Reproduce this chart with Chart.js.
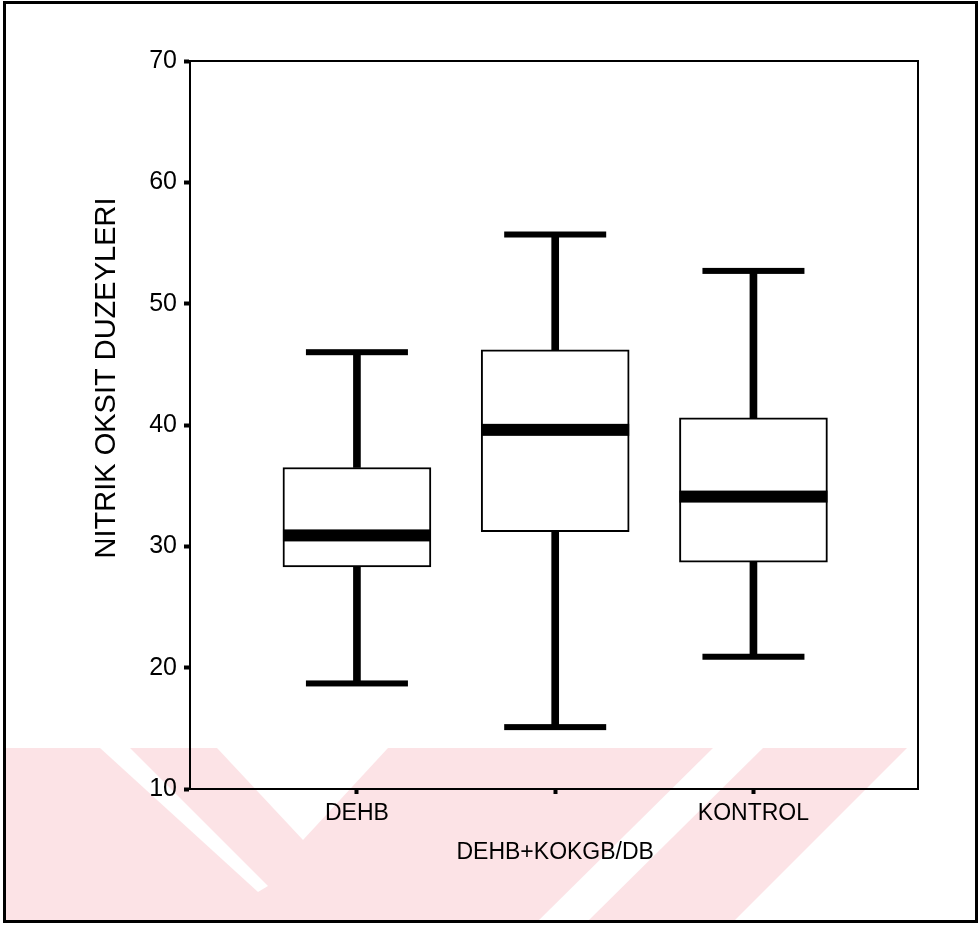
<!DOCTYPE html>
<html>
<head>
<meta charset="utf-8">
<title>Nitrik oksit düzeyleri</title>
<script src="https://cdn.jsdelivr.net/npm/chart.js@4.4.1/dist/chart.umd.min.js"></script>
<style>
  html, body { margin: 0; padding: 0; background: #fff; }
  #wrap { position: relative; width: 980px; height: 934px; }
</style>
</head>
<body>
<div id="wrap">
  <canvas id="boxChart" width="980" height="934"></canvas>
</div>
<script>
// gruplar ve kutu grafiği değerleri
const categories = ['DEHB', 'DEHB+KOKGB/DB', 'KONTROL'];
const whiskerMin = [18.7, 15.1, 20.9];
const q1Values = [28.3, 31.2, 28.7];
const medianValues = [30.9, 39.6, 34.1];
const q3Values = [36.5, 46.2, 40.6];
const whiskerMax = [46.0, 55.7, 52.7];
const yTickValues = [10, 20, 30, 40, 50, 60, 70];
const yTitle = 'NITRIK OKSIT DUZEYLERI';

Chart.defaults.font.family = "'Liberation Sans', Arial, sans-serif";
Chart.defaults.color = '#000';

// arka plandaki soluk filigran
const WATERMARK_PINK = '#fce3e6';
const watermarkBase = [[6, 748], [907, 748], [733, 922], [6, 922]];
const watermarkGaps = [
    [[100, 748], [130, 748], [268, 886], [258, 892]],
    [[217, 748], [388, 748], [303, 840]],
    [[713, 748], [763, 748], [587, 922], [537, 922]]
];

function fillPoly(ctx, pts, color) {
    ctx.beginPath();
    pts.forEach((p, i) => i ? ctx.lineTo(p[0], p[1]) : ctx.moveTo(p[0], p[1]));
    ctx.closePath();
    ctx.fillStyle = color;
    ctx.fill();
}

const boxExtras = {
    id: 'boxExtras',
    beforeDraw(chart) {
        const ctx = chart.ctx;
        ctx.save();
        fillPoly(ctx, watermarkBase, WATERMARK_PINK);
        watermarkGaps.forEach(g => fillPoly(ctx, g, '#fff'));
        ctx.restore();
    },
    afterDatasetsDraw(chart) {
        const ctx = chart.ctx;
        const xs = chart.scales.x;
        const ys = chart.scales.y;
        const area = chart.chartArea;
        ctx.save();
        ctx.fillStyle = '#000';
        categories.forEach((c, i) => {
            const cx = xs.getPixelForValue(i + 1);
            // medyan çizgisi
            const my = ys.getPixelForValue(medianValues[i]);
            ctx.fillRect(cx - 74, my - 6, 148, 12);
            // bıyık uçları
            const top = ys.getPixelForValue(whiskerMax[i]);
            const bot = ys.getPixelForValue(whiskerMin[i]);
            ctx.fillRect(cx - 51, top - 3, 102, 6);
            ctx.fillRect(cx - 51, bot - 3, 102, 6);
        });
        // grafik alanı çerçevesi
        ctx.strokeStyle = '#000';
        ctx.lineWidth = 2;
        ctx.strokeRect(area.left, area.top, area.right - area.left, area.bottom - area.top);
        ctx.restore();
    },
    afterDraw(chart) {
        const ctx = chart.ctx;
        ctx.save();
        // eksen başlığı
        ctx.translate(107, 378);
        ctx.rotate(-Math.PI / 2);
        ctx.font = "29px 'Liberation Sans', Arial, sans-serif";
        ctx.fillStyle = '#000';
        ctx.textAlign = 'center';
        ctx.textBaseline = 'middle';
        ctx.fillText(yTitle, 0, 0);
        ctx.restore();
        // sayfa çerçevesi
        ctx.save();
        ctx.strokeStyle = '#000';
        ctx.lineWidth = 3;
        ctx.strokeRect(4.5, 2.5, 972, 919);
        ctx.restore();
    }
};

const ctx = document.getElementById('boxChart');

new Chart(ctx, {
    type: 'bar',
    data: {
        datasets: [
            {
                label: 'kutu',
                data: categories.map((c, i) => ({ x: i + 1, y: [q1Values[i], q3Values[i]] })),
                backgroundColor: '#fff',
                borderColor: '#000',
                borderWidth: 2,
                borderSkipped: false,
                barThickness: 148,
                grouped: false
            },
            {
                label: 'alt bıyık',
                data: categories.map((c, i) => ({ x: i + 1, y: [whiskerMin[i], q1Values[i]] })),
                backgroundColor: '#000',
                borderWidth: 0,
                barThickness: 7,
                grouped: false
            },
            {
                label: 'üst bıyık',
                data: categories.map((c, i) => ({ x: i + 1, y: [q3Values[i], whiskerMax[i]] })),
                backgroundColor: '#000',
                borderWidth: 0,
                barThickness: 7,
                grouped: false
            }
        ]
    },
    options: {
        responsive: false,
        animation: false,
        layout: {
            padding: { left: 0, right: 62, top: 61, bottom: 0 }
        },
        plugins: {
            legend: { display: false },
            tooltip: { enabled: false }
        },
        scales: {
            x: {
                type: 'linear',
                min: 0.158,
                max: 3.83,
                offset: false,
                afterBuildTicks: (scale) => {
                    scale.ticks = categories.map((c, i) => ({ value: i + 1 }));
                },
                afterFit: (scale) => {
                    scale.height = 145;
                },
                ticks: {
                    autoSkip: false,
                    maxRotation: 0,
                    padding: 0,
                    color: '#000',
                    font: { size: 23, lineHeight: 1.7 },
                    callback: function(value, index) {
                        // ortadaki etiket bir satır aşağıda
                        return index === 1 ? ['', categories[index]] : categories[index];
                    }
                },
                grid: {
                    drawOnChartArea: false,
                    drawTicks: true,
                    tickLength: 5,
                    tickWidth: 4,
                    tickColor: '#000',
                    offset: false
                },
                border: { color: '#000', width: 2 }
            },
            y: {
                min: 10,
                max: 70,
                afterBuildTicks: (scale) => {
                    scale.ticks = yTickValues.map(v => ({ value: v }));
                },
                afterFit: (scale) => {
                    scale.width = 190;
                },
                ticks: {
                    padding: 7,
                    color: '#000',
                    font: { size: 25 }
                },
                grid: {
                    drawOnChartArea: false,
                    drawTicks: true,
                    tickLength: 6,
                    tickWidth: 4,
                    tickColor: '#000'
                },
                border: { color: '#000', width: 2 }
            }
        }
    },
    plugins: [boxExtras]
});
</script>
</body>
</html>
